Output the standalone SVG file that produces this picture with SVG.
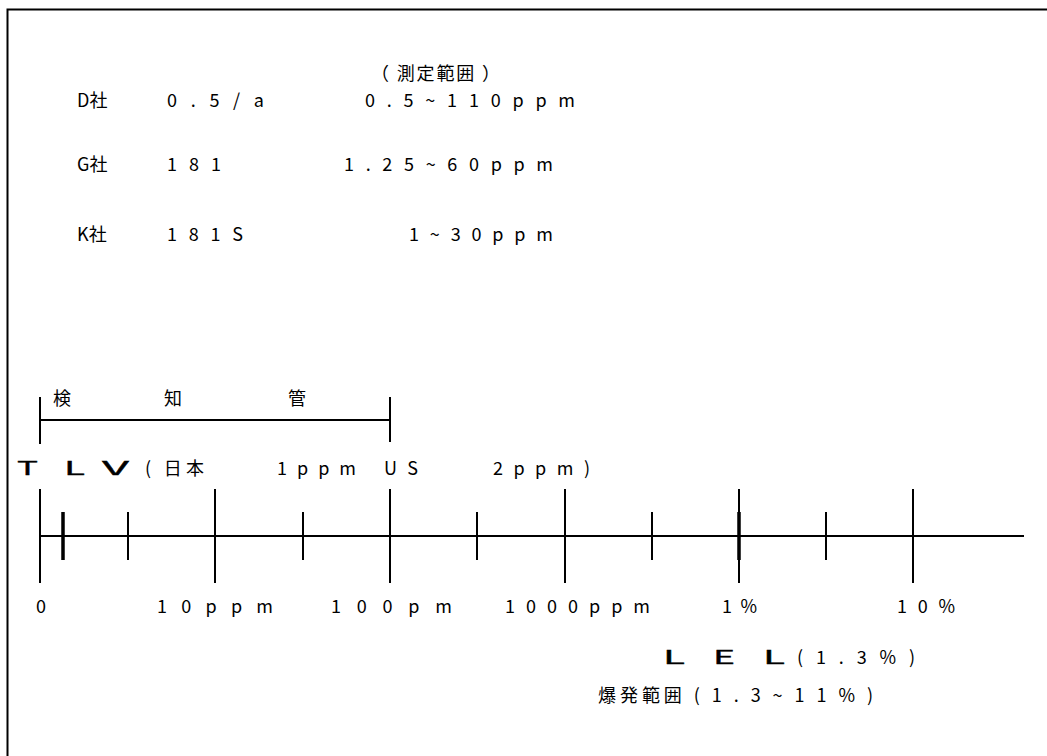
<svg xmlns="http://www.w3.org/2000/svg" width="1047" height="756" viewBox="0 0 1047 756">
<style>
.t{font-family:"Noto Sans CJK JP","DejaVu Sans",sans-serif;font-size:18px;fill:#000}
.w{font-family:"Noto Sans CJK JP","DejaVu Sans",sans-serif;font-size:18px;fill:#000;stroke:#000;stroke-width:0.3}
.ln{stroke:#000;stroke-width:2;fill:none}
.tk{stroke:#000;stroke-width:3.5;fill:none}
</style>
<rect x="0" y="0" width="1047" height="756" fill="#fff"/>
<path class="ln" d="M7.5,760 V9.5 H1050"/>
<g id="header">
<text class="t" x="371" y="80" textLength="129">（ 測定範囲 ）</text>
</g>
<g id="rowD">
<text class="t" x="77" y="107">D社</text>
<text class="t" x="167" y="107" textLength="97">0 . 5 / a</text>
<text class="t" x="365" y="107" textLength="210">0 . 5 ~ 1 1 0 p p m</text>
</g>
<g id="rowG">
<text class="t" x="77" y="171">G社</text>
<text class="t" x="167" y="171" textLength="54">1 8 1</text>
<text class="t" x="344" y="171" textLength="209">1 . 2 5 ~ 6 0 p p m</text>
</g>
<g id="rowK">
<text class="t" x="77" y="241">K社</text>
<text class="t" x="167" y="241" textLength="76">1 8 1 S</text>
<text class="t" x="409" y="241" textLength="144">1 ~ 3 0 p p m</text>
</g>
<g id="detector-tube">
<path class="ln" d="M40,397 V444 M40,420 H390 M390,397 V442"/>
<text class="t" x="53" y="405">検</text>
<text class="t" x="164" y="405">知</text>
<text class="t" x="288" y="405">管</text>
</g>
<g id="tlv">
<text class="w" x="17" y="475" textLength="21" lengthAdjust="spacingAndGlyphs">T</text>
<text class="w" x="64" y="475" textLength="21" lengthAdjust="spacingAndGlyphs">L</text>
<text class="w" x="102" y="475" textLength="27" lengthAdjust="spacingAndGlyphs">V</text>
<text class="t" x="145" y="475" textLength="59">( 日本</text>
<text class="t" x="277" y="475" textLength="79">1 p p m</text>
<text class="t" x="384" y="475" textLength="34">U S</text>
<text class="t" x="493" y="475" textLength="97">2 p p m )</text>
</g>
<g id="connectors">
<path class="ln" d="M40,536 H1024"/>
<path class="ln" d="M40,489 V583 M215,489 V583 M390,489 V583 M565,489 V583 M739,489 V583 M913,489 V583"/>
<path class="ln" d="M128,512 V560 M303,512 V560 M477,512 V560 M652,512 V560 M826,512 V560"/>
<path class="tk" d="M63,512 V560 M739,512 V560"/>
</g>
<g id="axis-labels">
<text class="t" x="36" y="613">0</text>
<text class="t" x="157" y="613" textLength="116">1 0 p p m</text>
<text class="t" x="331" y="613" textLength="121">1 0 0   p m</text>
<text class="t" x="505" y="613" textLength="145">1 0 0 0 p p m</text>
<text class="t" x="722" y="613" textLength="35">1 %</text>
<text class="t" x="897" y="613" textLength="58">1 0 %</text>
</g>
<g id="lel">
<text class="w" x="663" y="664" textLength="22" lengthAdjust="spacingAndGlyphs">L</text>
<text class="w" x="713" y="664" textLength="22" lengthAdjust="spacingAndGlyphs">E</text>
<text class="w" x="763" y="664" textLength="22" lengthAdjust="spacingAndGlyphs">L</text>
<text class="t" x="797" y="664" textLength="118">( 1 . 3 % )</text>
</g>
<g id="explosion-range">
<text class="t" x="598" y="702" textLength="275">爆発範囲 ( 1 . 3 ~ 1 1 % )</text>
</g>
</svg>
